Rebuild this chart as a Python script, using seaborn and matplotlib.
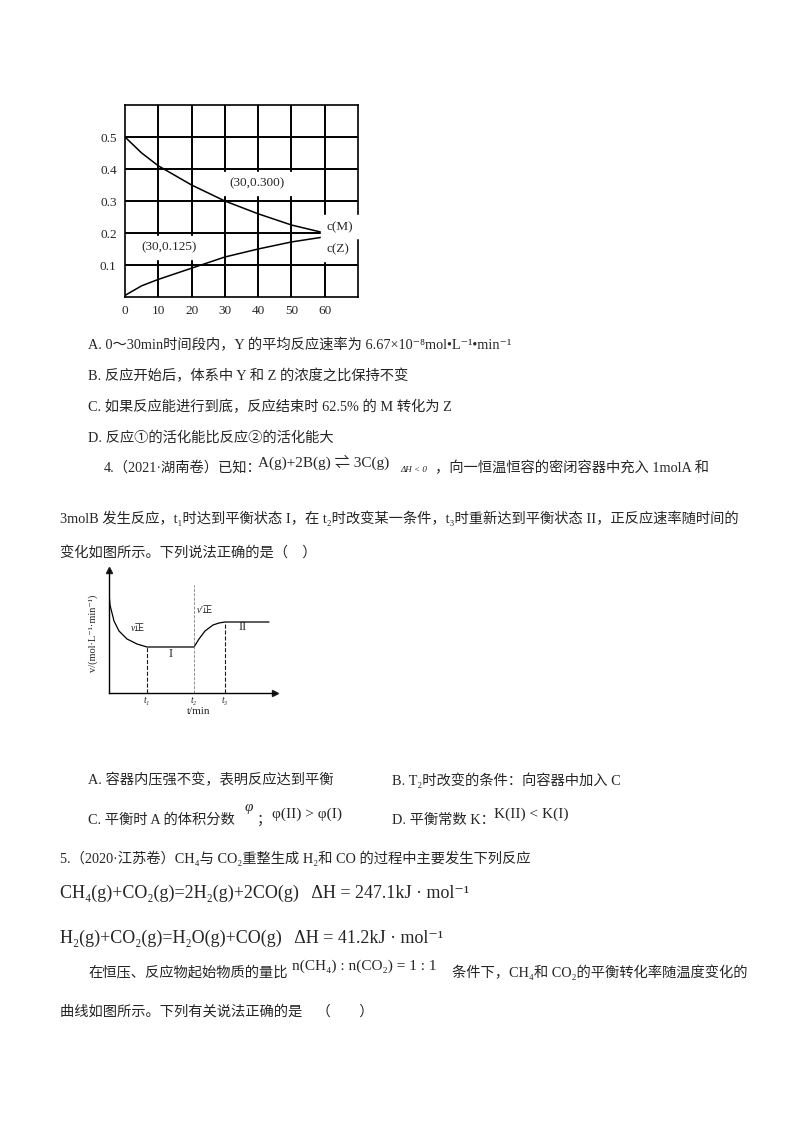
import numpy as np
import pandas as pd
import seaborn as sns
import matplotlib
matplotlib.use("Agg")
import matplotlib.pyplot as plt

sns.set_theme(style="white")
FAM = ['Liberation Serif', 'Noto Sans CJK SC', 'DejaVu Sans']
plt.rcParams['font.family'] = FAM

# chart 1 data
t_min = [0, 5, 10, 20, 30, 40, 50, 60]
c_M = [0.50, 0.45, 0.41, 0.35, 0.30, 0.26, 0.225, 0.20]
c_Z = [0.005, 0.035, 0.055, 0.09, 0.125, 0.15, 0.172, 0.188]
x_ticks = [0, 10, 20, 30, 40, 50, 60]
y_ticks = [0.1, 0.2, 0.3, 0.4, 0.5]

# chart 2 data (schematic)
t_rate = [0, 1, 5, 10, 18, 28, 38, 85, 90, 96, 104, 110, 116, 160]
v_rate = [100, 88, 72, 62, 54, 49, 46, 46, 54, 62, 68, 70, 71, 71]

W, H = 800, 1132
fig = plt.figure(figsize=(8, 11.32), dpi=100)

def ax_at(l, b, w, h):
    return fig.add_axes([l / W, 1 - b / H, w / W, h / H])

def T(x, y, s, size=10.3, **kw):
    fig.text(x / W, 1 - y / H, s, fontsize=size, va='center', ha='left', **kw)

# ---- chart 1
ax = ax_at(125, 297, 233, 192)
df = pd.DataFrame({'t': t_min * 2, 'c': c_M + c_Z, 's': ['M'] * 8 + ['Z'] * 8})
sns.lineplot(data=df, x='t', y='c', units='s', estimator=None, color='black', lw=1.1, ax=ax)
ax.set_xlim(0, 70); ax.set_ylim(0, 0.6)
for x in range(10, 70, 10):
    ax.axvline(x, color='black', lw=1.4)
for y in y_ticks:
    ax.axhline(y, color='black', lw=1.4)
ax.set_xticks(x_ticks); ax.set_yticks(y_ticks)
ax.set_xticklabels([str(v) for v in x_ticks])
ax.set_yticklabels([str(v) for v in y_ticks])
ax.tick_params(labelsize=9.5, length=0, pad=6)
for s in ax.spines.values():
    s.set_color('black'); s.set_linewidth(1.2)
ax.set_xlabel(''); ax.set_ylabel('')
ax.text(31.5, 0.345, '(30,0.300)', fontsize=9.5, backgroundcolor='white')
ax.text(5, 0.145, '(30,0.125)', fontsize=9.5, backgroundcolor='white')
ax.text(60.5, 0.21, 'c(M)', fontsize=9.5, backgroundcolor='white')
ax.text(60.5, 0.14, 'c(Z)', fontsize=9.5, backgroundcolor='white')

# ---- text block 1
T(88, 345, 'A. 0～30min时间段内，Y 的平均反应速率为 6.67×10⁻⁸mol•L⁻¹•min⁻¹')
T(88, 376, 'B. 反应开始后，体系中 Y 和 Z 的浓度之比保持不变')
T(88, 407, 'C. 如果反应能进行到底，反应结束时 62.5% 的 M 转化为 Z')
T(88, 438, 'D. 反应①的活化能比反应②的活化能大')
T(104, 468, '4.（2021·湖南卷）已知：')
T(258, 462, 'A(g)+2B(g) ⇌ 3C(g)', size=11)
T(400, 470, 'ΔH < 0', size=6.5, style='italic')
T(435, 468, '，向一恒温恒容的密闭容器中充入 1molA 和')
T(60, 518, '3molB 发生反应，t₁时达到平衡状态 I，在 t₂时改变某一条件，t₃时重新达到平衡状态 II，正反应速率随时间的')
T(60, 553, '变化如图所示。下列说法正确的是（　）')

# ---- chart 2
ax2 = ax_at(109, 693, 166, 123)
sns.lineplot(x=t_rate, y=v_rate, color='black', lw=0.9, ax=ax2)
ax2.set_xlim(0, 166); ax2.set_ylim(0, 123)
for s in ['top', 'right']:
    ax2.spines[s].set_visible(False)
for s in ['left', 'bottom']:
    ax2.spines[s].set_color('black'); ax2.spines[s].set_linewidth(1.0)
ax2.set_xticks([]); ax2.set_yticks([])
ax2.plot(1, 0, '>k', ms=4, transform=ax2.transAxes, clip_on=False)
ax2.plot(0, 1, '^k', ms=4, transform=ax2.transAxes, clip_on=False)
ax2.plot([38, 38], [0, 46], 'k--', lw=0.8)
ax2.plot([85, 85], [0, 108], 'k--', lw=0.6, color='gray')
ax2.plot([116, 116], [0, 71], 'k--', lw=0.8)
ax2.text(22, 62, 'v正', fontsize=7, style='italic')
ax2.text(88, 80, "v′正", fontsize=7, style='italic')
ax2.text(60, 36, 'I', fontsize=9)
ax2.text(130, 63, 'II', fontsize=9)
for xx, lab in [(38, 't₁'), (85, 't₂'), (116, 't₃')]:
    ax2.text(xx, -10, lab, fontsize=7, ha='center', style='italic')
ax2.text(90, -21, 't/min', fontsize=8, ha='center')
ax2.text(-16, 60, 'v/(mol·L⁻¹·min⁻¹)', fontsize=7.5, rotation=90, ha='center', va='center')

# ---- text block 2
T(88, 780, 'A. 容器内压强不变，表明反应达到平衡')
T(392, 780, 'B. T₂时改变的条件：向容器中加入 C')
T(88, 820, 'C. 平衡时 A 的体积分数')
T(245, 808, 'φ', size=11, style='italic')
T(257, 820, '；')
T(272, 814, 'φ(II) > φ(I)', size=11)
T(392, 820, 'D. 平衡常数 K：')
T(494, 814, 'K(II) < K(I)', size=11)
T(60, 858, '5.（2020·江苏卷）CH₄与 CO₂重整生成 H₂和 CO 的过程中主要发生下列反应')
T(60, 893, 'CH₄(g)+CO₂(g)=2H₂(g)+2CO(g)   ΔH = 247.1kJ · mol⁻¹', size=13)
T(60, 938, 'H₂(g)+CO₂(g)=H₂O(g)+CO(g)   ΔH = 41.2kJ · mol⁻¹', size=13)
T(88, 972, '在恒压、反应物起始物质的量比')
T(292, 966, 'n(CH₄) : n(CO₂) = 1 : 1', size=11)
T(452, 972, '条件下，CH₄和 CO₂的平衡转化率随温度变化的')
T(60, 1012, '曲线如图所示。下列有关说法正确的是　（　　）')

fig.savefig('out.png', dpi=100)
